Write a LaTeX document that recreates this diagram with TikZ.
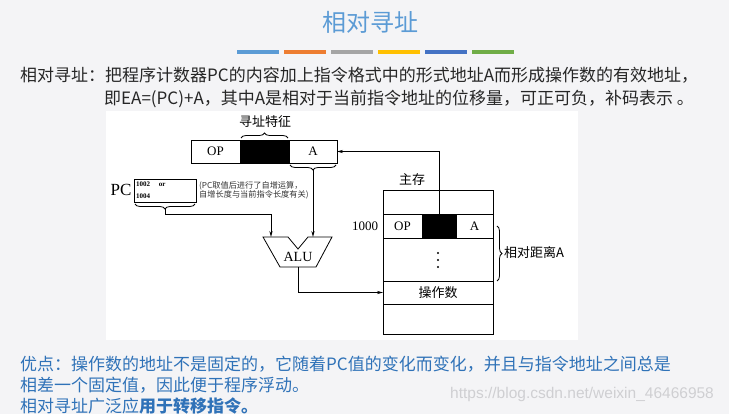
\documentclass[tikz,border=0pt]{standalone}
\usepackage{fontspec}
\setmainfont{Liberation Serif}
\newfontfamily\cjk{Noto Sans CJK SC}
\newfontfamily\wmfont{Liberation Sans}
\usetikzlibrary{arrows.meta,decorations.pathreplacing}
\definecolor{bgc}{HTML}{F4F4F6}
\definecolor{titleblue}{HTML}{5B9BD5}
\definecolor{txtc}{HTML}{262626}
\definecolor{noteblue}{HTML}{2F72B8}
\definecolor{b1}{HTML}{5B9BD5}
\definecolor{b2}{HTML}{ED7D31}
\definecolor{b3}{HTML}{A5A5A5}
\definecolor{b4}{HTML}{FFC000}
\definecolor{b5}{HTML}{4472C4}
\definecolor{b6}{HTML}{70AD47}
\definecolor{wm}{HTML}{CFCFD2}
\begin{document}
\begin{tikzpicture}[x=1pt,y=-1pt,
  cell/.style={draw=black, line width=0.8pt, inner sep=0pt, outer sep=0pt, font=\fontsize{13}{15}\selectfont},
  dline/.style={draw=black, line width=0.8pt},
  arr/.style={dline, -{Stealth[length=6pt,width=3.2pt]}},
  brace/.style={dline, decorate, decoration={brace, amplitude=5pt}},
  dlbl/.style={inner sep=0pt, font=\cjk\fontsize{13}{15}\selectfont},
  slide/.style={inner sep=0pt, anchor=base west, font=\cjk\fontsize{17}{20}\selectfont, text=txtc},
  blue/.style={slide, text=noteblue},
  bar/.style={line width=4pt}
]
\useasboundingbox (0,0) rectangle (729,414);
\fill[bgc] (0,0) rectangle (729,414);
\fill[white] (106,111) rectangle (578,340);

% title and colour bars
\node[inner sep=0pt, font=\cjk\fontsize{24}{28}\selectfont, text=titleblue] (title) at (370,22) {相对寻址};
\draw[bar, b1] (237,52) -- (279,52);
\draw[bar, b2] (284,52) -- (326,52);
\draw[bar, b3] (331,52) -- (373,52);
\draw[bar, b4] (378,52) -- (420,52);
\draw[bar, b5] (425,52) -- (467,52);
\draw[bar, b6] (472,52) -- (514,52);

% definition text
\node[slide] (def1) at (20,81.5) {相对寻址：把程序计数器PC的内容加上指令格式中的形式地址A而形成操作数的有效地址，};
\node[slide] (def2) at (104,104.5) {即EA=(PC)+A，其中A是相对于当前指令地址的位移量，可正可负，补码表示 。};

% instruction
\node[cell, minimum width=49pt, minimum height=23pt] (iop) at (215.5,151.5) {OP};
\node[cell, fill=black, minimum width=49pt, minimum height=23pt] (iblk) at (264.5,151.5) {};
\node[cell, minimum width=48pt, minimum height=23pt] (ia) at (313,151.5) {A};
\draw[brace] (241,138) -- (288,138);
\node[dlbl] (feat) at (265,122) {寻址特征};
\draw[brace] (336,165) -- (290,165);
\coordinate (atip) at (313,170);

% PC
\node[inner sep=0pt, font=\fontsize{17}{19}\selectfont] (pclbl) at (121,190) {PC};
\node[cell, minimum width=62pt, minimum height=23pt, text width=58pt, inner xsep=2pt, inner ysep=1pt, align=left, font=\bfseries\fontsize{7}{12}\selectfont] (pc) at (165,190.5) {1002\hspace{9pt}or\\1004};
\draw[brace] (195,204) -- (135,204);
\coordinate (pctip) at (165,209);
\node[inner sep=0pt, anchor=north west, align=left, font=\cjk\fontsize{8.2}{9.5}\selectfont, text=black!80] (note) at (199,181) {(PC取值后进行了自增运算，\\自增长度与当前指令长度有关)};

% ALU
\draw[dline, line join=miter] (263,237) -- (288,237) -- (298,249) -- (308,237) -- (332,237) -- (316,267) -- (280,267) -- cycle;
\node[inner sep=0pt, font=\fontsize{14}{16}\selectfont] (alu) at (298,257) {ALU};
\coordinate (aluL) at (271,237);
\coordinate (aluR) at (313,237);
\coordinate (aluout) at (298,267);

% memory
\node[dlbl] (mlbl) at (412,180) {主存};
\node[cell, minimum width=110pt, minimum height=24pt] (m0) at (438,202) {};
\node[cell, minimum width=39pt, minimum height=24pt] (mop) at (402.5,226) {OP};
\node[cell, fill=black, minimum width=34pt, minimum height=24pt] (mblk) at (439,226) {};
\node[cell, minimum width=37pt, minimum height=24pt] (ma) at (474.5,226) {A};
\node[cell, minimum width=110pt, minimum height=43pt] (m2) at (438,259.5) {};
\node[cell, minimum width=110pt, minimum height=23pt, font=\cjk\fontsize{13}{15}\selectfont] (m3) at (438,292.5) {操作数};
\node[cell, minimum width=110pt, minimum height=30pt] (m4) at (438,319) {};
\node[inner sep=0pt, font=\fontsize{13}{15}\selectfont] (addr) at (365,226) {1000};
\fill (438,253) circle (1.1pt) (438,260) circle (1.1pt) (438,267) circle (1.1pt);
\draw[brace] (497,226) -- (497,281);
\node[dlbl, anchor=west] (dist) at (504,253) {相对距离A};

% connectors
\draw[arr] (mblk.north) |- (ia.east);
\draw[arr] (atip) -- (aluR);
\draw[arr] (pctip) -- (165,214) -| (aluL);
\draw[arr] (aluout) |- (m3.west);

% remarks
\node[blue] (adv1) at (20,370.5) {优点：操作数的地址不是固定的，它随着PC值的变化而变化，并且与指令地址之间总是};
\node[blue] (adv2) at (20,391.5) {相差一个固定值，因此便于程序浮动。};
\node[blue] (adv3) at (20,412.5) {相对寻址广泛应{\bfseries 用于转移指令。}};
\node[inner sep=0pt, anchor=west, font=\wmfont\fontsize{15.5}{17}\selectfont, text=wm] (wmark) at (450,394) {https://blog.csdn.net/weixin\_46466958};
\end{tikzpicture}
\end{document}
